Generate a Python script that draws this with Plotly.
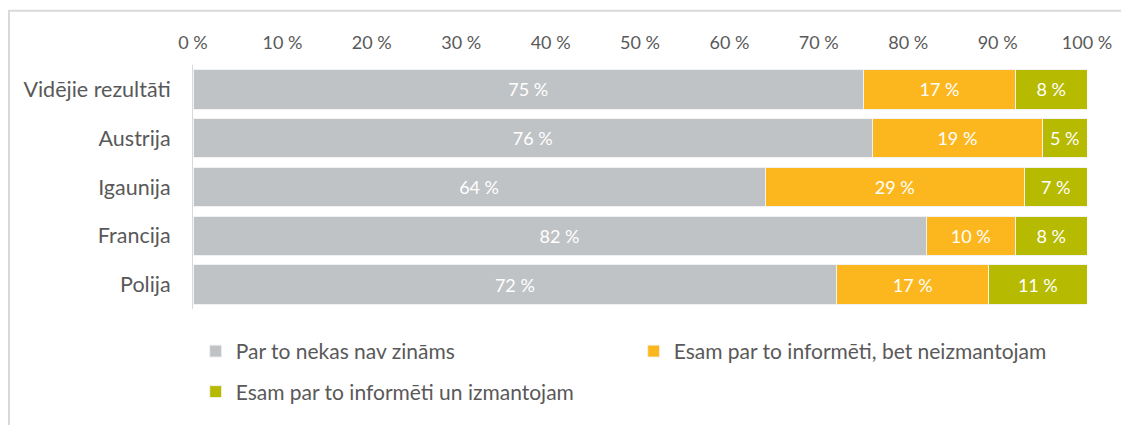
import plotly.graph_objects as go

KATEGORIJAS = ["Vidējie rezultāti", "Austrija", "Igaunija", "Francija", "Polija"]
NAV_ZINAMS = [75, 76, 64, 82, 72]
NEIZMANTOJAM = [17, 19, 29, 10, 17]
IZMANTOJAM = [8, 5, 7, 8, 11]
SERIJAS = [
    ("Par to nekas nav zināms", NAV_ZINAMS, "#BFC3C6", "legend"),
    ("Esam par to informēti, bet neizmantojam", NEIZMANTOJAM, "#FDB71E", "legend"),
    ("Esam par to informēti un izmantojam", IZMANTOJAM, "#B6BA00", "legend2"),
]
TICK_VALS = [0, 10, 20, 30, 40, 50, 60, 70, 80, 90, 100]
TICK_TEXT = [f"{v} %" for v in TICK_VALS]

FONT = "Lato, 'Open Sans', sans-serif"
COR_TEXTO = "#595959"

# a página tem 8 px de margem no body, por isso 1121x417
fig = go.Figure()
for nome, vals, cor, leg in SERIJAS:
    fig.add_trace(go.Bar(
        y=KATEGORIJAS, x=vals, name=nome, orientation="h", legend=leg,
        marker=dict(color=cor, line=dict(color="#f2f2f2", width=1)),
        text=[f"{v} %" for v in vals], textposition="inside",
        insidetextanchor="middle",
        textfont=dict(color="white", size=18, family=FONT),
        hoverinfo="skip",
    ))

_LEG = dict(
    orientation="h", xanchor="left", yanchor="middle",
    entrywidth=393, font=dict(size=21, color=COR_TEXTO, family=FONT),
    traceorder="normal", bgcolor="rgba(0,0,0,0)",
)

fig.update_layout(
    barmode="stack",
    width=1121, height=417,
    bargap=0.19,
    plot_bgcolor="white", paper_bgcolor="white",
    margin=dict(l=185, r=42, t=57, b=113),
    font=dict(family=FONT, color=COR_TEXTO, size=18),
    xaxis=dict(
        side="top", range=[0, 100], tickvals=TICK_VALS, ticktext=TICK_TEXT,
        showgrid=False, zeroline=False, showline=False,
        tickfont=dict(size=18, color=COR_TEXTO),
        ticks="outside", ticklen=8, tickcolor="rgba(0,0,0,0)",
    ),
    yaxis=dict(
        autorange="reversed", showgrid=False, zeroline=False,
        showline=True, linecolor="#d9d9d9", linewidth=1,
        tickfont=dict(size=21.5, color=COR_TEXTO),
        ticks="outside", ticklen=17, tickcolor="rgba(0,0,0,0)",
    ),
    legend=dict(_LEG, x=0.003, y=-0.174),
    legend2=dict(_LEG, x=0.003, y=-0.34),
    uniformtext=dict(minsize=10, mode="show"),
    shapes=[dict(
        type="rect", xref="paper", yref="paper",
        x0=-0.2058, x1=1.1, y0=-0.6, y1=1.2227,
        line=dict(color="#d9d9d9", width=2), layer="below",
    )],
)

fig.write_html("out.html")
